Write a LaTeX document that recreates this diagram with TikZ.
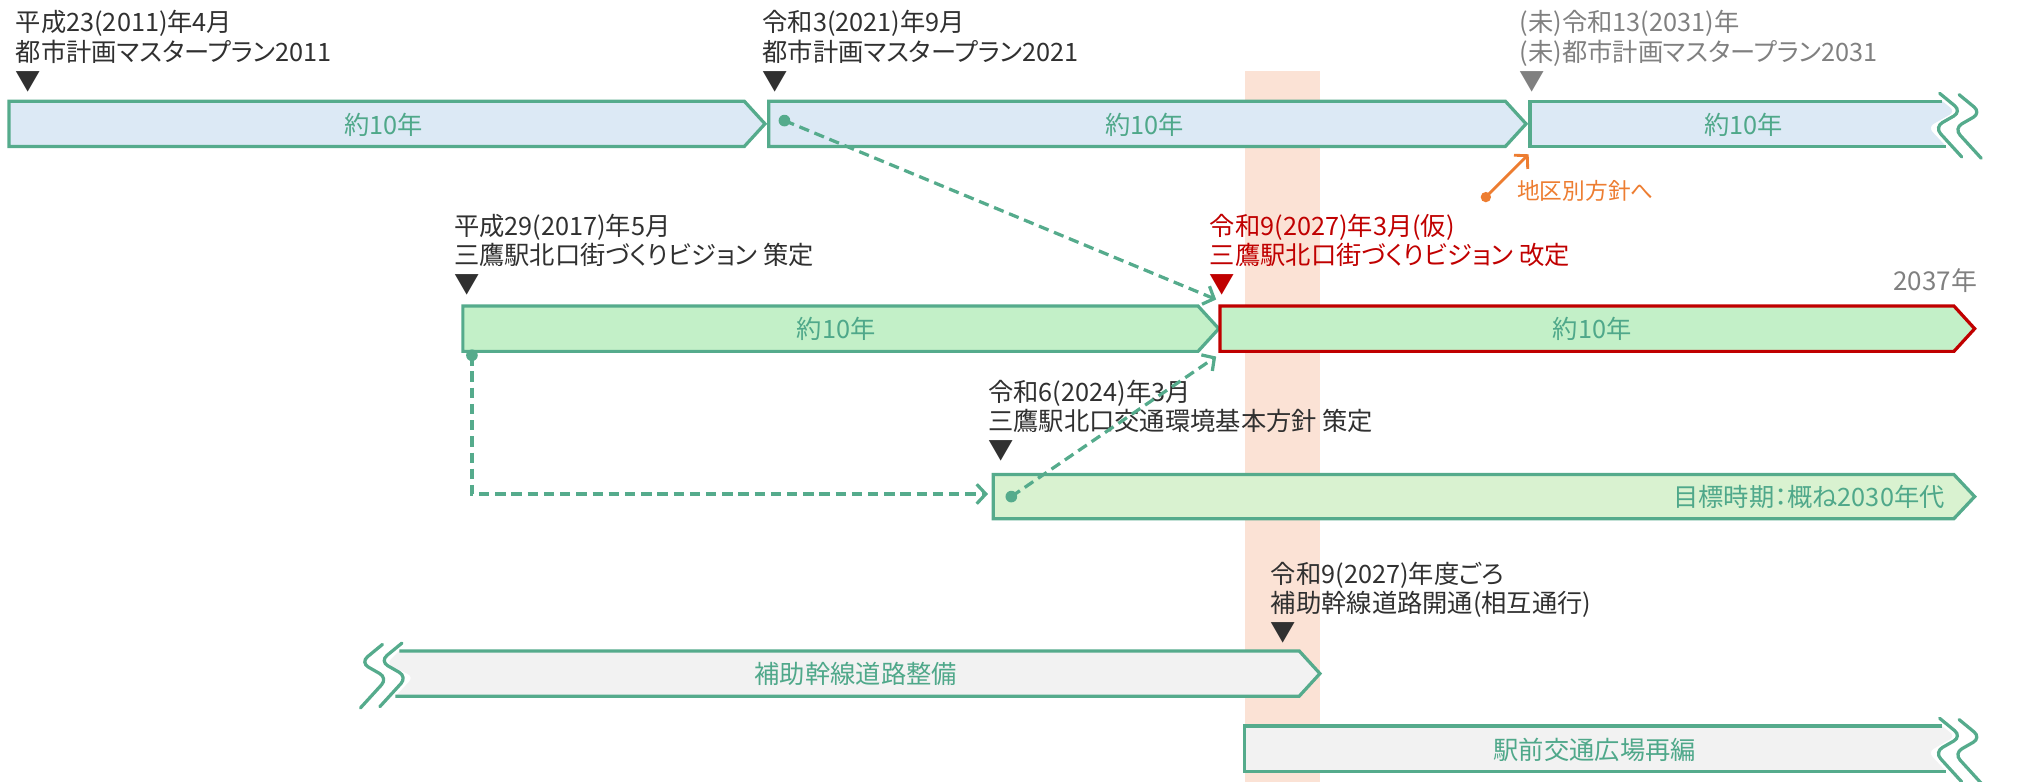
\documentclass[tikz,border=0pt]{standalone}
\usepackage{fontspec}
\setmainfont{Noto Sans CJK JP}[RawFeature={+palt}]
\usetikzlibrary{arrows.meta}
\definecolor{gline}{HTML}{55AB8C}
\definecolor{gtext}{HTML}{4FA88A}
\definecolor{bluefill}{HTML}{DCE9F5}
\definecolor{greenfill}{HTML}{C3F0C8}
\definecolor{lgreenfill}{HTML}{D9F2D0}
\definecolor{greyfill}{HTML}{F2F2F2}
\definecolor{redline}{HTML}{C00000}
\definecolor{peach}{HTML}{FBE2D5}
\definecolor{labeldark}{HTML}{303030}
\definecolor{labelgrey}{HTML}{808080}
\definecolor{orangec}{HTML}{ED7D31}
\tikzset{
  lbl/.style={anchor=north west, inner sep=0pt, align=left, font=\fontsize{19.5}{22.5}\selectfont, text=labeldark},
  bartext/.style={inner sep=0pt, font=\fontsize{19.5}{22}\selectfont, text=gtext},
  barline/.style={draw=gline, line width=2.5pt, line join=miter},
  dasharrow/.style={draw=gline, line width=2.5pt, dash pattern=on 8pt off 4.5pt, -{Straight Barb[length=7pt,width=15pt]}},
  brk/.style={draw=gline, line width=2.5pt, rounded corners=7pt, line cap=round},
}
\newcommand\chevbar[6]{%
  \filldraw[fill=#5, draw=#6, line width=2.5pt, line join=miter] (#1,#3) -- ({#2-16},#3) -- (#2,{(#3+#4)/2}) -- ({#2-16},#4) -- (#1,#4) -- cycle;}
\newcommand\rbrkbar[5]{%
  \pgfmathsetmacro\brkcy{(#3+#4)/2}%
  \fill[#5] (#1,#3) -- ({#2-5},#3) [rounded corners=5pt] -- ({#2+5},{\brkcy-9.5}) -- ({#2-16},{\brkcy+2.5}) [sharp corners] -- ({#2-2},#4) -- (#1,#4) -- cycle;
  \draw[barline] ({#2-5},#3) -- (#1,#3) -- (#1,#4) -- ({#2-2},#4);
  \draw[brk] ({#2-7},{\brkcy-23.5}) -- ({#2+10},{\brkcy-9.5}) -- ({#2-11},{\brkcy+2.5}) -- ({#2+10},{\brkcy+25.5});
  \draw[brk] ({#2+8},{\brkcy-22.5}) -- ({#2+25},{\brkcy-8.5}) -- ({#2+4},{\brkcy+3.5}) -- ({#2+25},{\brkcy+26.5});}
\begin{document}
\begin{tikzpicture}[x=1pt,y=-1pt]
\useasboundingbox (0,0) rectangle (1568,603);
% highlight band
\fill[peach] (960,55) rectangle (1018,603);

% row 1
\chevbar{7}{590}{78}{113}{bluefill}{gline}
\chevbar{593}{1177}{78}{113}{bluefill}{gline}
\rbrkbar{1180}{1503}{78}{113}{bluefill}
\node[bartext] (t1) at (296,96) {約10年};
\node[bartext] (t2) at (883,96) {約10年};
\node[bartext] (t3) at (1345,96) {約10年};

% row 2
\chevbar{357}{940}{236}{271}{greenfill}{gline}
\chevbar{941}{1523}{236}{271}{greenfill}{redline}
\node[bartext] (t4) at (645,254) {約10年};
\node[bartext] (t5) at (1228,254) {約10年};

% row 3
\chevbar{766}{1523}{366}{400}{lgreenfill}{gline}
\node[bartext, anchor=east] (t6) at (1500,383) {目標時期：概ね2030年代};

% row 4 (left break)
\fill[greyfill] (308,502) [rounded corners=5pt] -- (298,512) -- (319,522) [sharp corners] -- (305,537) -- (1002,537) -- (1018,519.5) -- (1002,502) -- cycle;
\draw[barline] (308,502) -- (1002,502) -- (1018,519.5) -- (1002,537) -- (305,537);
\draw[brk] (310,496) -- (293,510) -- (314,522) -- (293,545);
\draw[brk] (295,497) -- (278,511) -- (299,523) -- (278,546);
\node[bartext] (t7) at (660,520) {補助幹線道路整備};

% row 5
\rbrkbar{960}{1503}{560}{595}{greyfill}
\node[bartext] (t8) at (1230,578) {駅前交通広場再編};

% labels
\node[lbl] (m2011) at (12,8) {平成23(2011)年4月\\都市計画マスタープラン2011\\▼};
\node[lbl] (m2021) at (588,8) {令和3(2021)年9月\\都市計画マスタープラン2021\\▼};
\node[lbl, text=labelgrey] (m2031) at (1172,8) {(未)令和13(2031)年\\(未)都市計画マスタープラン2031\\▼};
\node[lbl] (v2017) at (350,165) {平成29(2017)年5月\\三鷹駅北口街づくりビジョン 策定\\▼};
\node[lbl, text=redline] (v2027) at (933,165) {令和9(2027)年3月(仮)\\三鷹駅北口街づくりビジョン 改定\\▼};
\node[lbl] (k2024) at (762,293) {令和6(2024)年3月\\三鷹駅北口交通環境基本方針 策定\\▼};
\node[lbl] (r2027) at (980,433) {令和9(2027)年度ごろ\\補助幹線道路開通(相互通行)\\▼};
\node[lbl, anchor=north east, text=labelgrey, font=\fontsize{20}{22}\selectfont] (y2037) at (1525,207) {2037年};

% orange arrow
\coordinate (od) at (1146,152);
\coordinate (oe) at (1179,119);
\fill[orangec] (od) circle (4pt);
\draw[orangec, line width=2.2pt, -{Straight Barb[length=7pt,width=15pt]}] (od) -- (oe);
\node[lbl, text=orangec, font=\fontsize{17.5}{20}\selectfont] (chiku) at (1170,139) {地区別方針へ};

% dashed connectors
\coordinate (d1) at (605,93);
\coordinate (e1) at (938,231);
\coordinate (d2) at (364,274);
\coordinate (e2) at (762,381);
\coordinate (d3) at (780,383);
\coordinate (e3) at (938,275);
\fill[gline] (d1) circle (4.5pt);
\fill[gline] (d2) circle (4.5pt);
\fill[gline] (d3) circle (4.5pt);
\draw[dasharrow] (d1) -- (e1);
\draw[dasharrow] (d2) |- (e2);
\draw[dasharrow] (d3) -- (e3);
\end{tikzpicture}
\end{document}
